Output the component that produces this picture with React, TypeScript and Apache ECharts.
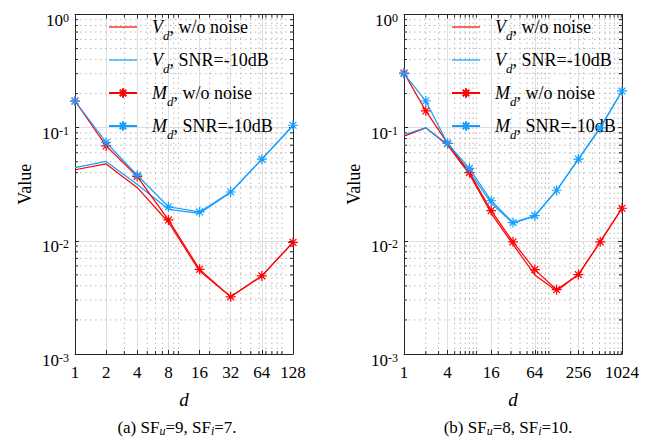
import React, { useEffect, useRef } from "react";
import * as echarts from "echarts";

// ---------- data ----------
const dA = [1, 2, 4, 8, 16, 32, 64, 128];
const vNoNoiseA = [0.0425, 0.0478, 0.0295, 0.0146, 0.0054, 0.0032, 0.0049, 0.0097];
const vSnrA = [0.0443, 0.0503, 0.0315, 0.019, 0.0175, 0.0268, 0.0527, 0.104];
const mNoNoiseA = [0.172, 0.069, 0.037, 0.0153, 0.0056, 0.0032, 0.0049, 0.0097];
const mSnrA = [0.172, 0.074, 0.038, 0.02, 0.018, 0.027, 0.0527, 0.105];

const dB = [1, 2, 4, 8, 16, 32, 64, 128, 256, 512, 1024];
const vNoNoiseB = [0.0841, 0.0996, 0.07, 0.0388, 0.0175, 0.0093, 0.005, 0.0036, 0.00503, 0.0098, 0.0194];
const vSnrB = [0.0865, 0.1, 0.0715, 0.041, 0.0215, 0.0143, 0.0165, 0.0278, 0.0528, 0.0996, 0.211];
const mNoNoiseB = [0.304, 0.1406, 0.0726, 0.0401, 0.0185, 0.0098, 0.00557, 0.0037, 0.00503, 0.0098, 0.0194];
const mSnrB = [0.3, 0.172, 0.0726, 0.0437, 0.0226, 0.0145, 0.0167, 0.028, 0.0528, 0.0996, 0.211];

const seriesNames = ["Vd, w/o noise", "Vd, SNR=-10dB", "Md, w/o noise", "Md, SNR=-10dB"];
const captionA = "{t|(a) SF}{s|u}{t|=9, SF}{s|i}{t|=7.}";
const captionB = "{t|(b) SF}{s|u}{t|=8, SF}{s|i}{t|=10.}";

const RED = "#FF0000";
const BLUE = "#139FFF";
const AXIS = "#262626";
const FONT = "'Liberation Serif', 'Times New Roman', 'DejaVu Serif', serif";
const STAR = "path://M5,0L5,10M0,5L10,5M1.6,1.6L8.4,8.4M1.6,8.4L8.4,1.6";
const LINE_ICON = "path://M0,0L28,0L28,1.2L0,1.2Z";

const Y_MIN = 0.001;
const Y_MAX = 1;

function minorValues(lo: number, hi: number, exclude: number[]) {
  const out: number[] = [];
  for (let k = -4; k <= 4; k++) {
    for (let n = 1; n <= 9; n++) {
      const v = n * Math.pow(10, k);
      if (v > lo * 1.0001 && v < hi * 0.9999 && !exclude.some((e) => Math.abs(e - v) / v < 1e-6)) out.push(v);
    }
  }
  return out;
}

function decorSeries(idx: number, xMin: number, xMax: number, xMajors: number[]) {
  const yMajors = [0.001, 0.01, 0.1, 1];
  const data: number[][] = [];
  minorValues(xMin, xMax, xMajors).forEach((v) => data.push([v, Y_MIN, 0]));
  minorValues(Y_MIN, Y_MAX, yMajors).forEach((v) => data.push([xMin, v, 1]));
  return {
    type: "custom",
    xAxisIndex: idx * 2,
    yAxisIndex: idx * 2,
    z: 1,
    silent: true,
    clip: false,
    data,
    renderItem: (params: any, api: any) => {
      const kind = api.value(2);
      let a: number[], b: number[];
      if (kind === 0) {
        const x = api.value(0);
        a = api.coord([x, Y_MIN]);
        b = api.coord([x, Y_MAX]);
      } else {
        const y = api.value(1);
        a = api.coord([xMin, y]);
        b = api.coord([xMax, y]);
      }
      const children: any[] = [
        {
          type: "line",
          shape: { x1: a[0], y1: a[1], x2: b[0], y2: b[1] },
          style: { stroke: "#b8b8b8", lineWidth: 1, lineDash: [1.5, 3.5] },
        },
      ];
      const tl = 3;
      if (kind === 0) {
        children.push({ type: "line", shape: { x1: a[0], y1: a[1], x2: a[0], y2: a[1] - tl }, style: { stroke: AXIS, lineWidth: 1 } });
        children.push({ type: "line", shape: { x1: b[0], y1: b[1], x2: b[0], y2: b[1] + tl }, style: { stroke: AXIS, lineWidth: 1 } });
      } else {
        children.push({ type: "line", shape: { x1: a[0], y1: a[1], x2: a[0] + tl, y2: a[1] }, style: { stroke: AXIS, lineWidth: 1 } });
        children.push({ type: "line", shape: { x1: b[0], y1: b[1], x2: b[0] - tl, y2: b[1] }, style: { stroke: AXIS, lineWidth: 1 } });
      }
      return { type: "group", children };
    },
  };
}

function lineSeries(idx: number, name: string, xs: number[], ys: number[], color: string, star: boolean, z: number) {
  return {
    type: "line",
    name,
    xAxisIndex: idx * 2,
    yAxisIndex: idx * 2,
    data: xs.map((x, i) => [x, ys[i]]),
    color,
    z,
    symbol: star ? STAR : "none",
    symbolSize: 10,
    showSymbol: star,
    lineStyle: { color, width: 1.2 },
    itemStyle: { color, borderColor: color, borderWidth: 1.2 },
    emphasis: { disabled: true },
  };
}

const tickLabelRich = {
  b: { fontFamily: FONT, fontSize: 17, color: "#000", lineHeight: 17, padding: [12, 0, 0, 0] },
  p: { fontFamily: FONT, fontSize: 12, color: "#000", lineHeight: 12, padding: [6, 0, 0, 0], verticalAlign: "top" },
};

const nameRich = {
  n: { fontFamily: FONT, fontSize: 18, color: "#000", lineHeight: 20 },
  i: { fontFamily: FONT, fontSize: 19, fontStyle: "italic", color: "#000", lineHeight: 20 },
  x: { fontFamily: FONT, fontSize: 17, color: "#000", lineHeight: 18 },
};

function yAxes(gridIndex: number) {
  const common = {
    type: "log",
    logBase: 10,
    min: Y_MIN,
    max: Y_MAX,
    gridIndex,
    axisLine: { show: true, lineStyle: { color: AXIS, width: 1 } },
    axisTick: { show: true, inside: true, length: 4, lineStyle: { color: AXIS } },
  };
  return [
    {
      ...common,
      position: "left",
      name: "{n|Value}",
      nameLocation: "middle",
      nameGap: 40,
      nameTextStyle: { rich: nameRich },
      splitLine: { show: true, lineStyle: { color: "#dedede", width: 1 } },
      axisLabel: {
        margin: 6,
        formatter: (v: number) => `{b|10}{p|${Math.round(Math.log10(v))}}`,
        rich: tickLabelRich,
      },
    },
    {
      ...common,
      position: "right",
      splitLine: { show: false },
      axisLabel: { show: false },
    },
  ];
}

function xAxes(gridIndex: number, logBase: number, max: number) {
  const common = {
    type: "log",
    logBase,
    min: 1,
    max,
    gridIndex,
    axisLine: { show: true, lineStyle: { color: AXIS, width: 1 } },
    axisTick: { show: true, inside: true, length: 4, lineStyle: { color: AXIS } },
  };
  return [
    {
      ...common,
      position: "bottom",
      name: "{i|d}",
      nameLocation: "middle",
      nameGap: 35,
      nameTextStyle: { rich: nameRich },
      splitLine: { show: true, lineStyle: { color: "#dedede", width: 1 } },
      axisLabel: {
        margin: 9,
        formatter: (v: number) => `{x|${Math.round(v)}}`,
        rich: nameRich,
      },
    },
    {
      ...common,
      position: "top",
      splitLine: { show: false },
      axisLabel: { show: false },
    },
  ];
}

const legendRich = {
  v: { fontFamily: FONT, fontSize: 18, fontStyle: "italic", color: "#000", lineHeight: 22 },
  s: { fontFamily: FONT, fontSize: 13, fontStyle: "italic", color: "#000", lineHeight: 13, padding: [17, 0, 0, 0] },
  t: { fontFamily: FONT, fontSize: 18, color: "#000", lineHeight: 22 },
};

function legend(left: number) {
  return {
    orient: "vertical",
    left,
    top: 7,
    itemWidth: 28,
    itemHeight: 12,
    itemGap: 3,
    selectedMode: false,
    data: seriesNames.map((n, i) =>
      i < 2 ? { name: n, icon: LINE_ICON, itemStyle: { borderWidth: 0 } } : { name: n }
    ),
    formatter: (name: string) => `{v|${name[0]}}{s|d}{t|${name.slice(2)}}`,
    textStyle: { rich: legendRich, padding: [0, 0, 0, 10] },
  };
}

const captionRich = {
  t: { fontFamily: FONT, fontSize: 17, fontWeight: "normal", color: "#000", lineHeight: 20 },
  s: { fontFamily: FONT, fontSize: 12, fontWeight: "normal", fontStyle: "italic", color: "#000", lineHeight: 12, padding: [8, 0, 0, 0] },
};

export default function App() {
  const ref = useRef<HTMLDivElement>(null);
  useEffect(() => {
    if (!ref.current) return;
    const chart = echarts.init(ref.current, null, { renderer: "svg" });
    const majorsA = dA;
    const majorsB = [1, 4, 16, 64, 256, 1024];
    chart.setOption({
      animation: false,
      backgroundColor: "#fff",
      grid: [
        { left: 75, top: 14, width: 218, height: 340 },
        { left: 404, top: 14, width: 218, height: 340 },
      ],
      xAxis: [...xAxes(0, 2, 128), ...xAxes(1, 4, 1024)],
      yAxis: [...yAxes(0), ...yAxes(1)],
      legend: [legend(103), legend(446)],
      title: [
        { text: captionA, left: 177, top: 417, textAlign: "center", padding: 0, textStyle: { fontWeight: "normal", rich: captionRich } },
        { text: captionB, left: 508, top: 417, textAlign: "center", padding: 0, textStyle: { fontWeight: "normal", rich: captionRich } },
      ],
      series: [
        decorSeries(0, 1, 128, majorsA),
        decorSeries(1, 1, 1024, majorsB),
        lineSeries(0, seriesNames[0], dA, vNoNoiseA, RED, false, 2),
        lineSeries(0, seriesNames[1], dA, vSnrA, BLUE, false, 3),
        lineSeries(0, seriesNames[2], dA, mNoNoiseA, RED, true, 4),
        lineSeries(0, seriesNames[3], dA, mSnrA, BLUE, true, 5),
        lineSeries(1, seriesNames[0], dB, vNoNoiseB, RED, false, 2),
        lineSeries(1, seriesNames[1], dB, vSnrB, BLUE, false, 3),
        lineSeries(1, seriesNames[2], dB, mNoNoiseB, RED, true, 4),
        lineSeries(1, seriesNames[3], dB, mSnrB, BLUE, true, 5),
      ],
    });
    return () => chart.dispose();
  }, []);
  return <div ref={ref} style={{ width: 658, height: 440, position: "absolute", left: 0, top: 0 }} />;
}
